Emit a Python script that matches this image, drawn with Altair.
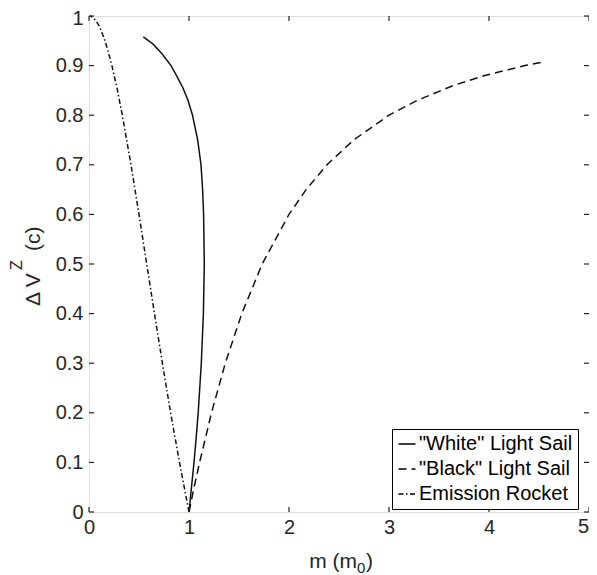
import altair as alt
import pandas as pd

# ---- data ----
series_names = ['"White" Light Sail', '"Black" Light Sail', 'Emission Rocket']

white_dv = [0, 0.05, 0.1, 0.15, 0.2, 0.3, 0.4, 0.5, 0.6, 0.65, 0.7, 0.75, 0.8, 0.83, 0.856, 0.88, 0.9, 0.923, 0.943, 0.958]
white_m = [1.0, 1.025, 1.05, 1.072, 1.092, 1.123, 1.144, 1.153, 1.146, 1.136, 1.12, 1.087, 1.035, 0.99, 0.937, 0.875, 0.82, 0.733, 0.643, 0.543]

black_dv = [0, 0.05, 0.1, 0.2, 0.3, 0.4, 0.5, 0.6, 0.65, 0.7, 0.75, 0.8, 0.83, 0.86, 0.88, 0.9, 0.907]
black_m = [1.0, 1.051, 1.106, 1.225, 1.363, 1.528, 1.732, 2.0, 2.171, 2.38, 2.646, 3.0, 3.283, 3.645, 3.958, 4.359, 4.54]

rocket_dv = [0, 0.1, 0.2, 0.3, 0.4, 0.5, 0.6, 0.7, 0.8, 0.85, 0.9, 0.93, 0.95, 0.97, 0.98, 0.99, 0.995, 0.999, 0.9998]
rocket_m = [1.0, 0.905, 0.816, 0.734, 0.655, 0.577, 0.5, 0.42, 0.333, 0.285, 0.229, 0.19, 0.16, 0.123, 0.1, 0.071, 0.05, 0.022, 0.01]

x_ticks = [0, 1, 2, 3, 4, 5]
y_ticks = [0, 0.1, 0.2, 0.3, 0.4, 0.5, 0.6, 0.7, 0.8, 0.9, 1]

dash_patterns = [[1, 0], [8, 5], [5, 2.5, 1.5, 2.5]]

rows = []
for name, dvs, ms in zip(series_names, [white_dv, black_dv, rocket_dv], [white_m, black_m, rocket_m]):
    for i, (d, m) in enumerate(zip(dvs, ms)):
        rows.append({"series": name, "idx": i, "dv": d, "m": m})
df = pd.DataFrame(rows)

W, H = 500, 496
FONT = "Liberation Sans"
INK = "#262626"
FS = 20

xscale = alt.Scale(domain=[0, 5], nice=False, zero=False)
yscale = alt.Scale(domain=[0, 1], nice=False, zero=False)

# the last x label ("5") sits at the page edge, so it is drawn flush by its own layer
x_axis = alt.Axis(values=x_ticks[:-1], title=None, ticks=False, domain=False, grid=False, labelFlush=False,
                  labelFontSize=FS, labelFont=FONT, labelColor=INK, labelPadding=5, format="~g")
y_axis = alt.Axis(values=y_ticks, title=None, ticks=False, domain=False, grid=False, labelFlush=False,
                  labelFontSize=FS, labelFont=FONT, labelColor=INK, labelPadding=6, format="~g",
                  labelOffset={"condition": {"test": "datum.value == 1", "value": 2}, "value": 0})

lines = alt.Chart(df).mark_line(strokeWidth=1.5, color="#111111").encode(
    x=alt.X("m:Q", scale=xscale, axis=x_axis),
    y=alt.Y("dv:Q", scale=yscale, axis=y_axis),
    strokeDash=alt.StrokeDash("series:N",
                              scale=alt.Scale(domain=series_names, range=dash_patterns),
                              legend=alt.Legend(title=None, orient="none", legendX=303, legendY=413,
                                                strokeColor="#000000", fillColor="white",
                                                padding=5, labelFontSize=FS, labelFont=FONT,
                                                labelColor="#000000", symbolType="stroke",
                                                symbolSize=289, symbolStrokeWidth=1.5,
                                                symbolStrokeColor="#000000", rowPadding=5,
                                                labelOffset=2, labelLimit=400)),
    order=alt.Order("idx:Q"),
)

xt = pd.DataFrame({"m": x_ticks})
yt = pd.DataFrame({"dv": y_ticks})
TL = 5
tick_style = dict(color=INK, strokeWidth=1.2)
xb = alt.Chart(xt).mark_rule(**tick_style).encode(
    x=alt.X("m:Q", scale=xscale, axis=x_axis), y=alt.value(H), y2=alt.value(H - TL))
xtp = alt.Chart(xt).mark_rule(**tick_style).encode(
    x=alt.X("m:Q", scale=xscale, axis=x_axis), y=alt.value(0), y2=alt.value(TL))
yl = alt.Chart(yt).mark_rule(**tick_style).encode(
    y=alt.Y("dv:Q", scale=yscale, axis=y_axis), x=alt.value(0), x2=alt.value(TL))
yr = alt.Chart(yt).mark_rule(**tick_style).encode(
    y=alt.Y("dv:Q", scale=yscale, axis=y_axis), x=alt.value(W), x2=alt.value(W - TL))

last_lab = pd.DataFrame({"m": x_ticks[-1:], "lab": [str(x_ticks[-1])]})
x_last = alt.Chart(last_lab).mark_text(font=FONT, fontSize=FS, color=INK, align="right",
                                       baseline="top").encode(
    x=alt.X("m:Q", scale=xscale, axis=x_axis), y=alt.value(H + 5), text="lab:N")

one = pd.DataFrame({"a": [0]})
# x title: m (m_0)
xt1 = alt.Chart(one).mark_text(text="m (m", font=FONT, fontSize=21, color=INK, align="right",
                               baseline="alphabetic").encode(x=alt.value(268), y=alt.value(552))
xt2 = alt.Chart(one).mark_text(text="0", font=FONT, fontSize=15, color=INK, align="left",
                               baseline="alphabetic").encode(x=alt.value(268), y=alt.value(557))
xt3 = alt.Chart(one).mark_text(text=")", font=FONT, fontSize=21, color=INK, align="left",
                               baseline="alphabetic").encode(x=alt.value(277), y=alt.value(552))
# y title: Δ V^Z (c)
yt1 = alt.Chart(one).mark_text(text="\u0394 V", font=FONT, fontSize=21, color=INK, align="left",
                               baseline="alphabetic", angle=270).encode(x=alt.value(-49), y=alt.value(290))
yt2 = alt.Chart(one).mark_text(text="Z", font=FONT, fontSize=16, color=INK, align="left",
                               baseline="alphabetic", angle=270).encode(x=alt.value(-67), y=alt.value(254))
yt3 = alt.Chart(one).mark_text(text="(c)", font=FONT, fontSize=21, color=INK, align="left",
                               baseline="alphabetic", angle=270).encode(x=alt.value(-49), y=alt.value(235))

chart = alt.layer(lines, xb, xtp, yl, yr, x_last, xt1, xt2, xt3, yt1, yt2, yt3).properties(
    width=W, height=H,
    autosize=alt.AutoSizeParams(type="none"),
    padding={"left": 81, "top": 8, "right": 0, "bottom": 63},
).configure_view(stroke=INK, strokeWidth=1.5).configure(font=FONT)

chart.save("out.html", embed_options={"renderer": "svg", "actions": False})
